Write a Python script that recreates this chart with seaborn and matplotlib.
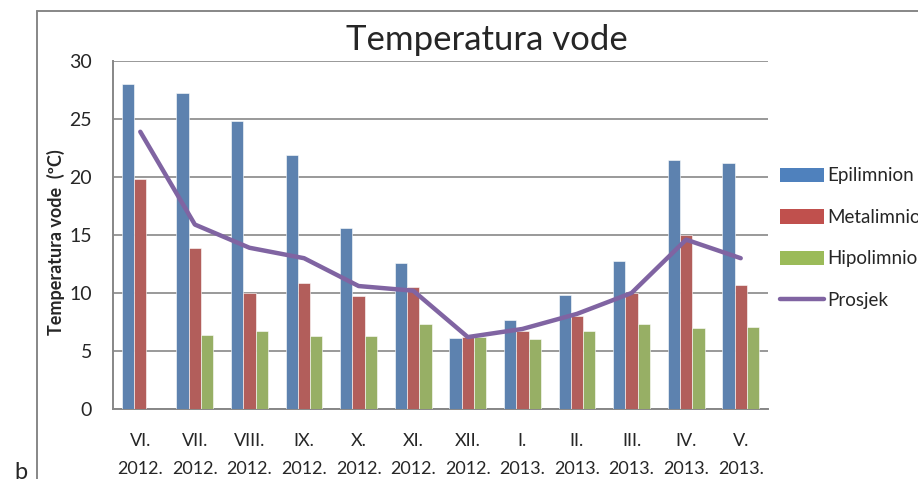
import numpy as np
import pandas as pd
import matplotlib
matplotlib.use("Agg")
import matplotlib.pyplot as plt
import seaborn as sns
from matplotlib.lines import Line2D
from matplotlib.patches import Patch

# ───────────────────────── data ─────────────────────────
months = ["VI.\n2012.", "VII.\n2012.", "VIII.\n2012.", "IX.\n2012.", "X.\n2012.", "XI.\n2012.",
          "XII.\n2012.", "I.\n2013.", "II.\n2013.", "III.\n2013.", "IV.\n2013.", "V.\n2013."]
epilimnion  = [28.0, 27.2, 24.8, 21.9, 15.6, 12.6, 6.1, 7.7, 9.8, 12.8, 21.5, 21.2]
metalimnion = [19.8, 13.9, 10.0, 10.9, 9.7, 10.5, 6.2, 6.7, 8.0, 10.0, 15.0, 10.7]
hipolimnion = [np.nan, 6.4, 6.7, 6.3, 6.3, 7.3, 6.2, 6.0, 6.7, 7.3, 7.0, 7.1]
prosjek     = [23.9, 15.9, 13.9, 13.0, 10.6, 10.2, 6.2, 6.9, 8.2, 10.0, 14.6, 13.0]

series_names  = ["Epilimnion", "Metalimnion", "Hipolimnion"]
series_colors = ["#4F81BD", "#C0504D", "#9BBB59"]
line_color    = "#8064A2"
grid_color    = "#878787"

df = pd.DataFrame({
    "month": months * 3,
    "serie": np.repeat(series_names, len(months)),
    "temp":  epilimnion + metalimnion + hipolimnion,
}).dropna()

# ───────────────────────── figure ───────────────────────
sns.set_style("white")
plt.rcParams["font.family"] = ["Lato", "DejaVu Sans"]

W, H = 918, 479
fig = plt.figure(figsize=(W / 100, H / 100), dpi=100)
ax = fig.add_axes([113 / W, 1 - 409 / H, (768 - 113) / W, (409 - 61) / H])

sns.barplot(data=df, x="month", y="temp", hue="serie", order=months,
            hue_order=series_names, palette=series_colors, width=0.675,
            gap=0, errorbar=None, ax=ax, legend=False,
            edgecolor="white", linewidth=0.4, zorder=3)
sns.lineplot(x=np.arange(len(months)), y=prosjek, color=line_color,
             linewidth=3.2, ax=ax, zorder=4)

ax.set_xlim(-0.5, len(months) - 0.5)
ax.set_ylim(0, 30)
ax.set_yticks(range(0, 31, 5))
ax.set_xticks(range(len(months)))
ax.set_xticklabels(months, fontsize=13, linespacing=1.95)
ax.set_xticks(np.arange(-0.5, len(months)), minor=True)
ax.tick_params(axis="x", which="major", length=0, pad=17)
ax.tick_params(axis="x", which="minor", length=6, width=1.2, color=grid_color, direction="out")
ax.tick_params(axis="y", length=5, width=1.2, color=grid_color, direction="out", labelsize=14, pad=10)
ax.yaxis.grid(True, color=grid_color, linewidth=1.2, zorder=0)
ax.set_axisbelow(True)
for s in ["top", "right"]:
    ax.spines[s].set_visible(False)
for s in ["left", "bottom"]:
    ax.spines[s].set_color(grid_color)
    ax.spines[s].set_linewidth(1.4)

ax.set_xlabel("")
ax.set_ylabel("Temperatura vode  (ºC)", fontsize=13, fontweight="bold")
ax.yaxis.set_label_coords((65 - 113) / 655, 0.48)

fig.text(487 / W, 1 - 40 / H, "Temperatura vode", ha="center", va="center", fontsize=25)

# legend
handles = [Patch(facecolor=c, edgecolor="none") for c in series_colors]
handles.append(Line2D([0], [0], color=line_color, linewidth=3.2))
fig.legend(handles, series_names + ["Prosjek"], loc="upper left",
           bbox_to_anchor=(772 / W, 1 - 160 / H), frameon=False, fontsize=13.5,
           handlelength=2.35, handleheight=0.8, handletextpad=0.2, labelspacing=1.3,
           borderaxespad=0)

# outer chart frame
fig.add_artist(Line2D([37 / W, 37 / W], [0, 1 - 11 / H], color=grid_color, linewidth=1.4))
fig.add_artist(Line2D([37 / W, 1], [1 - 11 / H, 1 - 11 / H], color=grid_color, linewidth=1.4))
fig.text(14 / W, 1 - 462 / H, "b", ha="left", va="top", fontsize=17)

fig.savefig("out.png", dpi=100)
